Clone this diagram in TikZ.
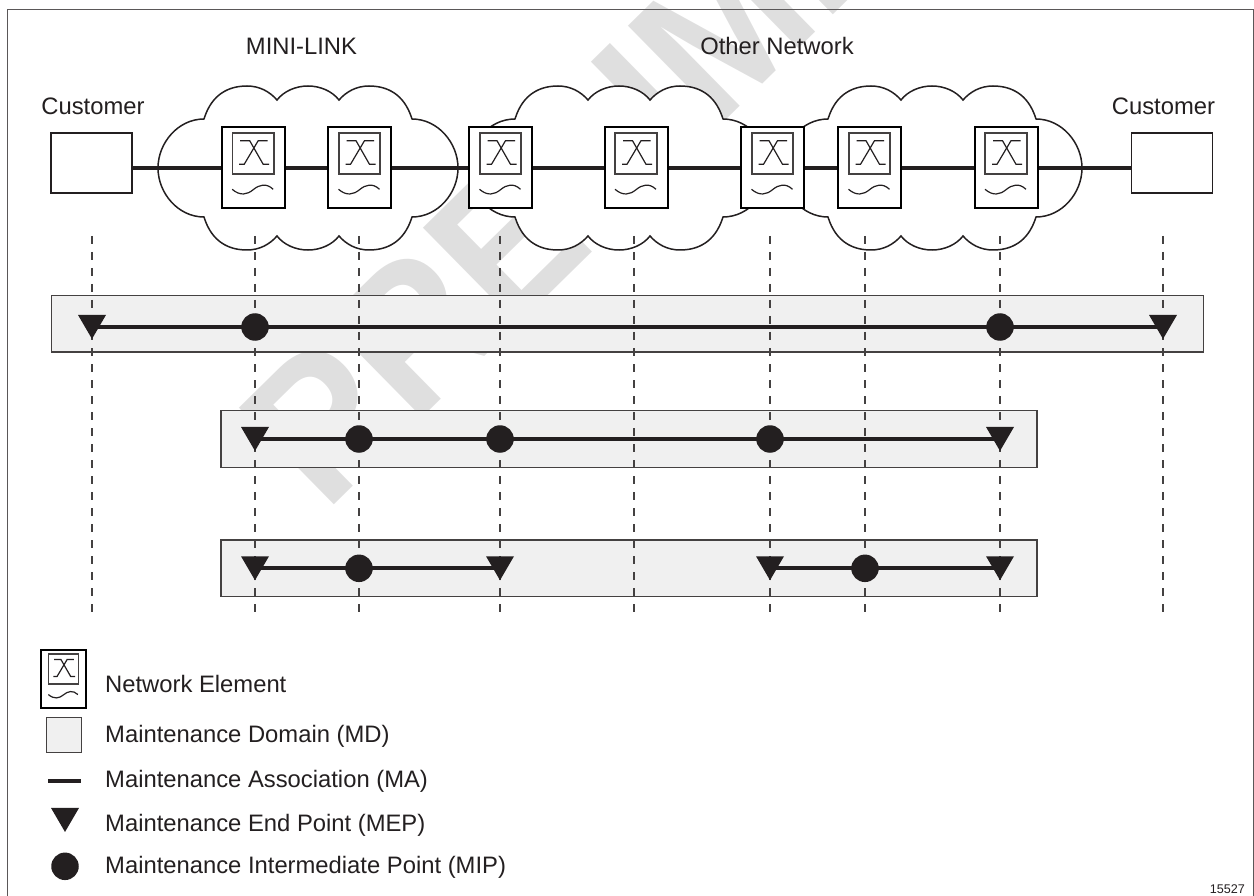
\documentclass[tikz,border=0pt]{standalone}
\usepackage{fontspec}
\setmainfont{Liberation Sans}
\newfontfamily\markfont[FakeStretch=0.94]{Liberation Sans}
\usetikzlibrary{shapes.geometric, positioning, calc}
\definecolor{inkdark}{HTML}{231F20}
\definecolor{domainfill}{HTML}{F0F0F0}
\definecolor{markgray}{HTML}{DFDFDF}
\tikzset{
    labeltext/.style={font=\fontsize{23.8}{28}\selectfont, text=inkdark, inner sep=0pt},
    customerbox/.style={rectangle, draw=inkdark, line width=1.6pt, fill=white, minimum width=81pt, minimum height=60pt, inner sep=0pt},
    domainbox/.style={rectangle, draw=inkdark!85, line width=1.3pt, fill=domainfill, inner sep=0pt},
    association/.style={draw=inkdark, line width=4pt},
    guideline/.style={draw=inkdark!85, line width=1.4pt, dash pattern=on 8pt off 8pt},
    mep/.style={isosceles triangle, isosceles triangle stretches, shape border rotate=-90, minimum width=28pt, minimum height=24pt, inner sep=0pt, fill=inkdark, yshift=4pt},
    mip/.style={circle, minimum size=27.5pt, inner sep=0pt, fill=inkdark},
    elementbox/.style={rectangle, draw=black, line width=2pt, fill=white, minimum width=#1*63pt, minimum height=#1*81pt, inner sep=0pt,
        path picture={
            \begin{scope}[x=#1pt, y=-#1pt]
                \draw[draw=inkdark!85, line width=1.7pt] (-20.7,-34.4) rectangle (20.7,6.6);
                \draw[draw=inkdark, line width=1.2pt] (-13,-27) -- (-3.5,-27) -- (10,-3.4) -- (16,-3.4);
                \draw[draw=inkdark, line width=1.2pt] (14.5,-27) -- (5,-27) -- (-9,-3.4) -- (-14,-3.4);
                \draw[draw=inkdark, line width=1.2pt] (-21,21.6) .. controls (-13,28.5) and (-6,27) .. (0,22) .. controls (6,17) and (13,15) .. (20,21.6);
            \end{scope}
        }
    },
    elementbox/.default=1,
    cloudshape/.pic={
        \draw[draw=inkdark, line width=1.5pt, fill=white]
            (-104,-49) .. controls (-96,-75) and (-78,-82) .. (-61,-82) .. controls (-48,-82) and (-38,-76) .. (-31,-68)
            .. controls (-24,-77) and (-12,-82) .. (0,-82) .. controls (12,-82) and (24,-77) .. (31,-68)
            .. controls (38,-76) and (48,-82) .. (61,-82) .. controls (78,-82) and (96,-75) .. (104,-49)
            .. controls (130,-49) and (150,-25) .. (150,0) .. controls (150,25) and (130,49) .. (104,49)
            .. controls (96,75) and (78,82) .. (61,82) .. controls (48,82) and (38,76) .. (31,68)
            .. controls (24,77) and (12,82) .. (0,82) .. controls (-12,82) and (-24,77) .. (-31,68)
            .. controls (-38,76) and (-48,82) .. (-61,82) .. controls (-78,82) and (-96,75) .. (-104,49)
            .. controls (-130,49) and (-150,25) .. (-150,0) .. controls (-150,-25) and (-130,-49) .. (-104,-49) -- cycle;
    }
}

\begin{document}
\begin{tikzpicture}[x=1pt, y=-1pt]
    \useasboundingbox (0,0) rectangle (1254,896);

    % Watermark
    \node (watermark) [rotate=44.5, anchor=base west, inner sep=0pt, text=markgray, font=\fontsize{197}{197}\markfont\bfseries] at (325.6,513.5) {PRELIMI};

    % Outer frame (runs off the bottom of the page)
    \node (frame) [rectangle, draw=inkdark!75, line width=1.3pt, minimum width=1246.5pt, minimum height=900pt, inner sep=0pt, anchor=north west] at (6.5,9) {};

    % Clouds
    \pic at (308,168) {cloudshape};
    \pic at (619,168) {cloudshape};
    \pic at (932,168) {cloudshape};

    % Titles
    \node (title_mini) [labeltext, anchor=base] at (301.5,55) {MINI-LINK};
    \node (title_other) [labeltext, anchor=base] at (777,55) {Other Network};
    \node (title_left) [labeltext, anchor=base] at (93,115) {Customer};
    \node (title_right) [labeltext, anchor=base] at (1163.5,115) {Customer};

    % Customers and network elements
    \node (cust_left) [customerbox] at (91.5,163) {};
    \node (cust_right) [customerbox] at (1172,163) {};
    \node (ne_a) [elementbox] at (253.2,167.7) {};
    \node (ne_b) [elementbox] at (359.5,167.7) {};
    \node (ne_c) [elementbox] at (500.5,167.7) {};
    \node (ne_d) [elementbox] at (636,167.7) {};
    \node (ne_e) [elementbox] at (772.5,167.7) {};
    \node (ne_f) [elementbox] at (869.5,167.7) {};
    \node (ne_g) [elementbox] at (1006,167.7) {};

    % Links between them
    \draw [association] (cust_left.east |- ne_a) -- (ne_a);
    \draw [association] (ne_a) -- (ne_b);
    \draw [association] (ne_b) -- (ne_c);
    \draw [association] (ne_c) -- (ne_d);
    \draw [association] (ne_d) -- (ne_e);
    \draw [association] (ne_e) -- (ne_f);
    \draw [association] (ne_f) -- (ne_g);
    \draw [association] (ne_g) -- (cust_right.west |- ne_g);

    % Domains
    \node (md_top) [domainbox, minimum width=1151.5pt, minimum height=56.3pt] at (627.5,323.8) {};
    \node (md_mid) [domainbox, minimum width=816pt, minimum height=56.6pt] at (629,439) {};
    \node (md_low) [domainbox, minimum width=816pt, minimum height=56.7pt] at (629,568.3) {};

    % Vertical guides
    \foreach \xpos/\guide in {92/a, 255/b, 359/c, 500/d, 634/e, 770/f, 865/g, 1000/h, 1163/i} {
        \coordinate (guide_top_\guide) at (\xpos,236);
        \coordinate (guide_low_\guide) at (\xpos,612);
        \draw [guideline] (guide_top_\guide) -- (guide_low_\guide);
    }

    % Top domain
    \node (top_a) [mep] at (92,327) {};
    \node (top_b) [mip] at (255,327) {};
    \node (top_c) [mip] at (1000,327) {};
    \node (top_d) [mep] at (1163,327) {};
    \draw [association] (top_a |- top_b) -- (top_b.center);
    \draw [association] (top_b.center) -- (top_c.center);
    \draw [association] (top_c.center) -- (top_d |- top_c);

    % Middle domain
    \node (mid_a) [mep] at (255,439) {};
    \node (mid_b) [mip] at (359,439) {};
    \node (mid_c) [mip] at (500,439) {};
    \node (mid_d) [mip] at (770,439) {};
    \node (mid_e) [mep] at (1000,439) {};
    \draw [association] (mid_a |- mid_b) -- (mid_b.center);
    \draw [association] (mid_b.center) -- (mid_c.center);
    \draw [association] (mid_c.center) -- (mid_d.center);
    \draw [association] (mid_d.center) -- (mid_e |- mid_d);

    % Lower domain
    \node (low_a) [mep] at (255,568.3) {};
    \node (low_b) [mip] at (359,568.3) {};
    \node (low_c) [mep] at (500,568.3) {};
    \node (low_d) [mep] at (770,568.3) {};
    \node (low_e) [mip] at (865,568.3) {};
    \node (low_f) [mep] at (1000,568.3) {};
    \draw [association] (low_a |- low_b) -- (low_b.center);
    \draw [association] (low_b.center) -- (low_c |- low_b);
    \draw [association] (low_d |- low_e) -- (low_e.center);
    \draw [association] (low_e.center) -- (low_f |- low_e);

    % Legend
    \node (key_element) [elementbox=0.72] at (63.5,679) {};
    \node (key_domain) [domainbox, minimum size=35pt] at (64.2,735) {};
    \coordinate (key_line_a) at (48,781);
    \coordinate (key_line_b) at (81,781);
    \draw [association] (key_line_a) -- (key_line_b);
    \node (key_mep) [mep] at (65,820) {};
    \node (key_mip) [mip] at (65,866.3) {};
    \node (text_element) [labeltext, anchor=base west] at (105,692) {Network Element};
    \node (text_domain) [labeltext, anchor=base west] at (105,742) {Maintenance Domain (MD)};
    \node (text_assoc) [labeltext, anchor=base west] at (105,787) {Maintenance Association (MA)};
    \node (text_mep) [labeltext, anchor=base west] at (105,831) {Maintenance End Point (MEP)};
    \node (text_mip) [labeltext, anchor=base west] at (105,873) {Maintenance Intermediate Point (MIP)};

    \node (figure_number) [anchor=base east, inner sep=0pt, text=inkdark, font=\fontsize{12.6}{14}\selectfont] at (1245,893) {15527};
\end{tikzpicture}
\end{document}
